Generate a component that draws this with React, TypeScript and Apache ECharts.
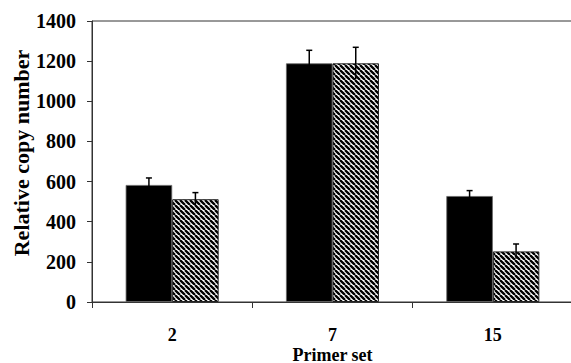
import React, { useEffect, useRef } from "react";
import * as echarts from "echarts";

const categories = ["2", "7", "15"];
const solidValues = [583, 1189, 528];
const solidErrors = [35, 65, 27];
const hatchedValues = [512, 1189, 252];
const hatchedErrors = [33, 80, 37];
const yTicks = { min: 0, max: 1400, interval: 200 };
const yTitle = "Relative copy number";
const xTitle = "Primer set";

const CAT_GAP = 0.42;
const FONT = "'Liberation Serif', 'DejaVu Serif', serif";

function makeHatch(): HTMLCanvasElement {
  const s = 5;
  const c = document.createElement("canvas");
  c.width = s;
  c.height = s;
  const ctx = c.getContext("2d")!;
  ctx.fillStyle = "#fff";
  ctx.fillRect(0, 0, s, s);
  ctx.strokeStyle = "#000";
  ctx.lineWidth = 2.3;
  ctx.beginPath();
  ctx.moveTo(0, 0);
  ctx.lineTo(s, s);
  ctx.moveTo(-s, 0);
  ctx.lineTo(0, s);
  ctx.moveTo(s, 0);
  ctx.lineTo(2 * s, s);
  ctx.stroke();
  return c;
}

function errorSeries(values: number[], errors: number[], side: number) {
  return {
    type: "custom",
    z: 5,
    data: values.map((v, i) => [i, v, errors[i]]),
    renderItem: (params: any, api: any) => {
      const i = api.value(0);
      const v = api.value(1);
      const e = api.value(2);
      const catW = api.size([1, 0])[0];
      const bw = (catW * (1 - CAT_GAP)) / 2;
      const base = api.coord([i, v]);
      const x = base[0] + side * (bw / 2);
      const top = api.coord([i, v + e])[1];
      const bot = api.coord([i, v - e])[1];
      const style = { stroke: "#000", lineWidth: 1.5 };
      return {
        type: "group",
        children: [
          { type: "line", shape: { x1: x, y1: bot, x2: x, y2: top }, style },
          { type: "line", shape: { x1: x - 3, y1: top, x2: x + 3, y2: top }, style },
        ],
      };
    },
  };
}

export default function App() {
  const ref = useRef<HTMLDivElement>(null);
  useEffect(() => {
    const chart = echarts.init(ref.current!, null, { renderer: "svg" });
    const hatch = makeHatch();
    chart.setOption({
      animation: false,
      backgroundColor: "#fff",
      grid: {
        left: 92,
        top: 21,
        bottom: 61,
        right: -2,
        outerBoundsMode: "none",
        containLabel: false,
        show: true,
        borderColor: "#333",
        borderWidth: 1,
      },
      graphic: [
        {
          type: "text",
          x: 21,
          y: 153,
          rotation: Math.PI / 2,
          style: {
            text: yTitle,
            fontFamily: FONT,
            fontWeight: "bold",
            fontSize: 22,
            fill: "#000",
            align: "center",
            verticalAlign: "middle",
          },
        },
      ],
      xAxis: {
        type: "category",
        data: categories,
        name: xTitle,
        nameLocation: "middle",
        nameGap: 44,
        nameMoveOverlap: false,
        nameTextStyle: {
          fontFamily: FONT,
          fontWeight: "bold",
          fontSize: 18,
          lineHeight: 18,
          color: "#000",
        },
        axisLine: { lineStyle: { color: "#333", width: 1 } },
        axisTick: { show: true, length: 6, lineStyle: { color: "#333" } },
        axisLabel: {
          fontFamily: FONT,
          fontWeight: "bold",
          fontSize: 18,
          lineHeight: 18,
          color: "#000",
          margin: 24,
        },
      },
      yAxis: {
        type: "value",
        min: yTicks.min,
        max: yTicks.max,
        interval: yTicks.interval,
        splitLine: { show: false },
        axisLine: { show: true, lineStyle: { color: "#333", width: 1 } },
        axisTick: { show: true, length: 5, lineStyle: { color: "#333" } },
        axisLabel: {
          fontFamily: FONT,
          fontWeight: "bold",
          fontSize: 20,
          color: "#000",
          margin: 16,
          formatter: (v: number) => String(v),
        },
      },
      series: [
        {
          type: "bar",
          data: solidValues,
          barGap: "0%",
          barCategoryGap: CAT_GAP * 100 + "%",
          itemStyle: { color: "#000", borderColor: "#666", borderWidth: 0.8 },
        },
        {
          type: "bar",
          data: hatchedValues,
          barGap: "0%",
          barCategoryGap: CAT_GAP * 100 + "%",
          itemStyle: {
            color: { image: hatch, repeat: "repeat" },
            borderColor: "#222",
            borderWidth: 1,
          },
        },
        errorSeries(solidValues, solidErrors, -1),
        errorSeries(hatchedValues, hatchedErrors, 1),
      ],
    });
    return () => chart.dispose();
  }, []);
  return (
    <div
      ref={ref}
      style={{ position: "absolute", left: 0, top: 0, width: 571, height: 363 }}
    />
  );
}
